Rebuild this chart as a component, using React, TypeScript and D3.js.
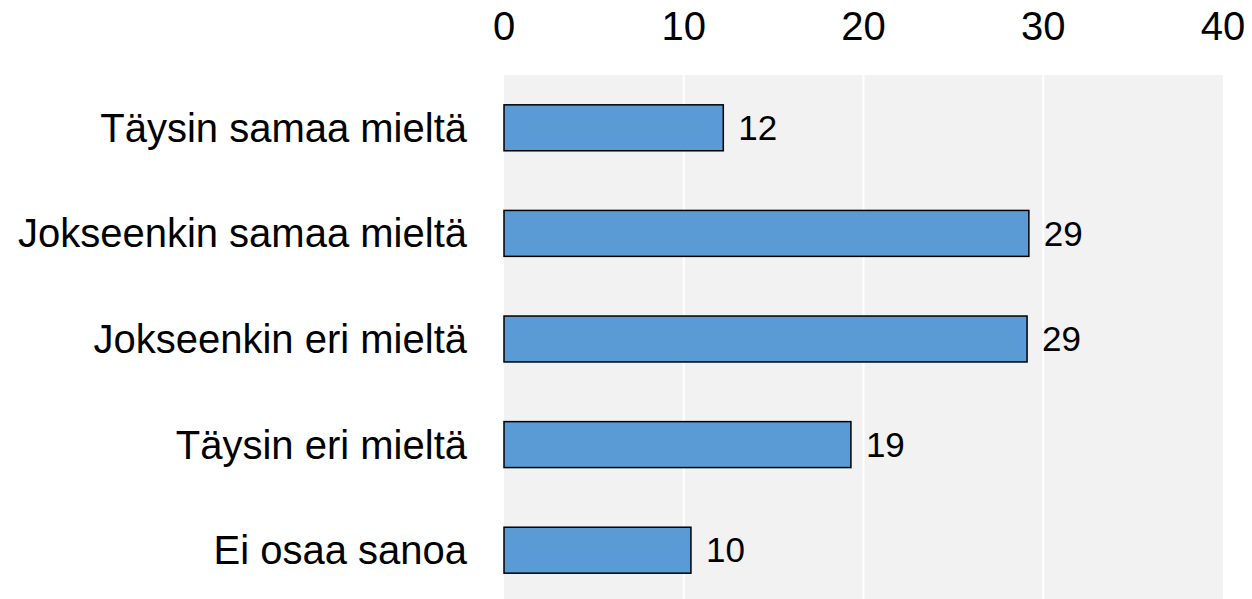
import React from "react";
import * as d3 from "d3";

const categories = [
  "Täysin samaa mieltä",
  "Jokseenkin samaa mieltä",
  "Jokseenkin eri mieltä",
  "Täysin eri mieltä",
  "Ei osaa sanoa",
];
const values = [12.2, 29.2, 29.1, 19.3, 10.4];
const labels = ["12", "29", "29", "19", "10"];
const ticks = [0, 10, 20, 30, 40];

const W = 1252;
const H = 599;
const plot = { left: 504, right: 1223, top: 75, bottom: 603 };

export default function App() {
  const x = d3.scaleLinear().domain([0, 40]).range([plot.left, plot.right]);
  const y = d3
    .scaleBand<string>()
    .domain(categories)
    .range([plot.top, plot.bottom])
    .paddingInner(0.565)
    .paddingOuter(0.2825);
  const font = "Arial, 'Liberation Sans', sans-serif";
  return (
    <svg
      width={W}
      height={H}
      style={{ position: "absolute", left: 0, top: 0, display: "block" }}
      fontFamily={font}
    >
      <rect x={plot.left} y={plot.top} width={plot.right - plot.left} height={plot.bottom - plot.top} fill="#F2F2F2" />
      {ticks.slice(1, -1).map((t) => (
        <line key={"g" + t} x1={x(t)} x2={x(t)} y1={plot.top} y2={plot.bottom} stroke="#FFFFFF" strokeWidth={2} />
      ))}
      {ticks.map((t) => (
        <text key={"t" + t} x={x(t)} y={39.5} textAnchor="middle" fontSize={40} fill="#000">
          {t}
        </text>
      ))}
      {categories.map((c, i) => {
        const by = y(c)!;
        const bh = y.bandwidth();
        return (
          <g key={c}>
            <rect
              x={x(0)}
              y={by}
              width={x(values[i]) - x(0)}
              height={bh}
              fill="#5B9BD5"
              stroke="#000"
              strokeWidth={1.5}
            />
            <text x={x(values[i]) + 15} y={by + bh / 2} dy="0.35em" fontSize={35} fill="#000">
              {labels[i]}
            </text>
            <text x={467} y={by + bh / 2} dy="0.35em" textAnchor="end" fontSize={40} fill="#000">
              {c}
            </text>
          </g>
        );
      })}
    </svg>
  );
}
